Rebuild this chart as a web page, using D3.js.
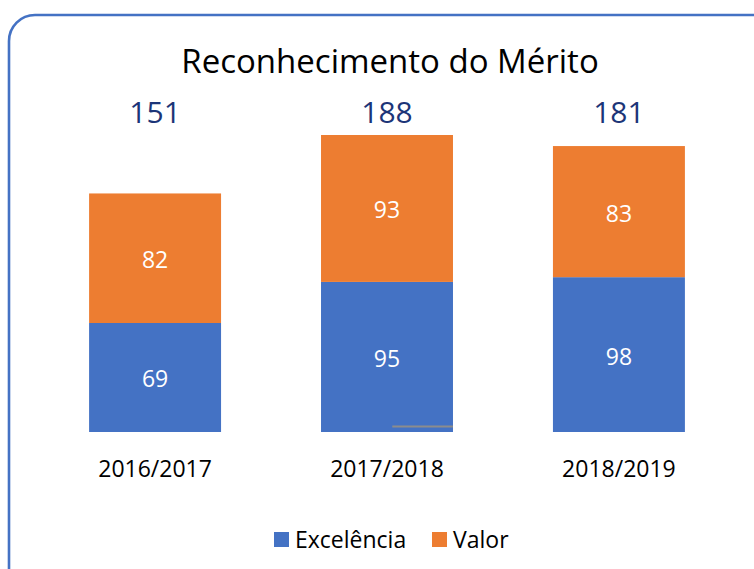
<!DOCTYPE html>
<html>
  <head>
    <meta charset="UTF-8" />
    <script src="https://d3js.org/d3.v7.min.js"></script>
    <style>
      body { margin: 0; background: #fff; }
      text { font-family: "Open Sans", sans-serif; }
    </style>
  </head>
  <body>
    <div id="chart"></div>
    <script>
      var years = ["2016/2017", "2017/2018", "2018/2019"];
      var excelencia = [69, 95, 98];
      var valor = [82, 93, 83];
      var seriesNames = ["Excelência", "Valor"];
      var colors = ["#4472C4", "#ED7D31"];

      var width = 754, height = 569;

      var svg = d3.select("#chart").append("svg")
        .attr("width", width)
        .attr("height", height);

      // frame
      svg.append("rect")
        .attr("x", 9).attr("y", 15)
        .attr("width", 770).attr("height", 580)
        .attr("rx", 26)
        .attr("fill", "none")
        .attr("stroke", "#4472C4")
        .attr("stroke-width", 2.6);

      svg.append("text")
        .attr("x", 390).attr("y", 73)
        .attr("text-anchor", "middle")
        .attr("font-size", 33)
        .attr("fill", "#000")
        .text("Reconhecimento do Mérito");

      var data = years.map(function (y, i) {
        return { year: y, "Excelência": excelencia[i], "Valor": valor[i] };
      });
      var stacked = d3.stack().keys(seriesNames)(data);

      var x = d3.scaleBand().domain(years).range([39, 735]).paddingInner(0.431).paddingOuter(0.216);
      var y = d3.scaleLinear().domain([0, 188]).range([432, 135]);

      var layers = svg.append("g").selectAll("g")
        .data(stacked).join("g")
        .attr("fill", function (d, i) { return colors[i]; });

      layers.selectAll("rect")
        .data(function (d) { return d; })
        .join("rect")
        .attr("x", function (d) { return x(d.data.year); })
        .attr("y", function (d) { return y(d[1]); })
        .attr("width", x.bandwidth())
        .attr("height", function (d) { return y(d[0]) - y(d[1]); });

      // stray grey stroke near the base of the middle bar
      svg.append("line")
        .attr("x1", x(years[1]) + x.bandwidth() * 0.54)
        .attr("x2", x(years[1]) + x.bandwidth())
        .attr("y1", y(0) - 5.5).attr("y2", y(0) - 5.5)
        .attr("stroke", "#8C8C8C")
        .attr("stroke-width", 2);

      layers.selectAll("text")
        .data(function (d) { return d; })
        .join("text")
        .attr("x", function (d) { return x(d.data.year) + x.bandwidth() / 2; })
        .attr("y", function (d) { return (y(d[0]) + y(d[1])) / 2 + 10; })
        .attr("text-anchor", "middle")
        .attr("font-size", 23)
        .attr("fill", "#fff")
        .text(function (d) { return d[1] - d[0]; });

      // totals
      svg.append("g").selectAll("text")
        .data(data).join("text")
        .attr("x", function (d) { return x(d.year) + x.bandwidth() / 2; })
        .attr("y", 123)
        .attr("text-anchor", "middle")
        .attr("font-size", 30)
        .attr("fill", "#1C3578")
        .text(function (d) { return d["Excelência"] + d["Valor"]; });

      // category axis
      var axis = svg.append("g")
        .attr("transform", "translate(0,432)")
        .call(d3.axisBottom(x).tickSize(0).tickPadding(0));
      axis.select(".domain").remove();
      axis.selectAll("text")
        .attr("y", 45)
        .attr("dy", null)
        .attr("font-size", 23)
        .attr("fill", "#000")
        .style("font-family", "Open Sans, sans-serif");

      // legend
      var legend = svg.append("g").attr("transform", "translate(274,548)");
      var lx = [0, 158];
      seriesNames.forEach(function (n, i) {
        var g = legend.append("g").attr("transform", "translate(" + lx[i] + ",0)");
        g.append("rect").attr("x", 0).attr("y", -16).attr("width", 15).attr("height", 15).attr("fill", colors[i]);
        g.append("text").attr("x", 21).attr("y", 0)
          .attr("font-size", 23).attr("fill", "#000").text(n);
      });
    </script>
  </body>
</html>
